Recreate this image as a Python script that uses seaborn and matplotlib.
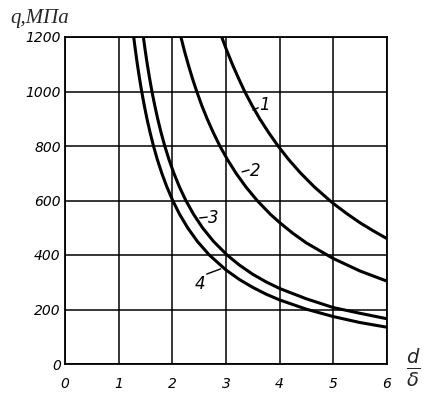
import numpy as np
import pandas as pd
import matplotlib
matplotlib.use("Agg")
import matplotlib.pyplot as plt
import seaborn as sns

# Data (q in MPa vs d/delta)
x1 = [2.92, 3.015, 3.118, 3.23, 3.348, 3.482, 3.628, 3.792, 3.97, 4.169, 4.393, 4.645,
      4.933, 5.00, 5.25, 5.50, 5.75, 6.00]
q1 = [1200, 1150, 1100, 1050, 1000, 950, 900, 850, 800, 750, 700, 650,
      600, 589, 552, 518, 488, 460]

x2 = [2.16, 2.224, 2.295, 2.371, 2.455, 2.546, 2.648, 2.761, 2.886, 3.028, 3.187,
      3.37, 3.58, 3.824, 4.00, 4.25, 4.50, 5.00, 5.50, 6.00]
q2 = [1200, 1150, 1100, 1050, 1000, 950, 900, 850, 800, 750, 700,
      650, 600, 550, 519, 479, 444, 387, 341, 304]

x3 = [1.46, 1.495, 1.533, 1.575, 1.62, 1.671, 1.727, 1.789, 1.859, 1.938, 2.029,
      2.132, 2.252, 2.394, 2.562, 2.767, 3.02, 3.25, 3.50, 3.75, 4.00, 4.50, 5.00,
      5.50, 6.00]
q3 = [1200, 1150, 1100, 1050, 1000, 950, 900, 850, 800, 750, 700,
      650, 600, 550, 500, 450, 400, 363, 329, 301, 277, 239, 207,
      186, 166]

x4 = [1.28, 1.313, 1.348, 1.387, 1.429, 1.476, 1.527, 1.585, 1.649, 1.721, 1.804,
      1.898, 2.007, 2.134, 2.285, 2.466, 2.689, 3.00, 3.25, 3.50, 3.75, 4.00, 4.50,
      5.00, 5.50, 6.00]
q4 = [1200, 1150, 1100, 1050, 1000, 950, 900, 850, 800, 750, 700,
      650, 600, 550, 500, 450, 400, 345, 310, 281, 256, 235, 201,
      174, 152, 135]

curve_names = ["1", "2", "3", "4"]
x_ticks = [0, 1, 2, 3, 4, 5, 6]
y_ticks = [0, 200, 400, 600, 800, 1000, 1200]

frames = []
for name, xs, qs in zip(curve_names, [x1, x2, x3, x4], [q1, q2, q3, q4]):
    frames.append(pd.DataFrame({"x": xs, "q": qs, "curve": name}))
df = pd.concat(frames, ignore_index=True)

sns.set_style("white")
plt.rcParams["font.family"] = ["DejaVu Sans"]

fig = plt.figure(figsize=(4.27, 3.96), dpi=100)
ax = fig.add_axes([65 / 427, 1 - 364 / 396, (387 - 65) / 427, (364 - 37) / 396])

sns.lineplot(data=df, x="x", y="q", hue="curve", units="curve", estimator=None,
             palette=["black"] * 4, linewidth=2.2, legend=False, sort=False, ax=ax)
for ln in ax.get_lines():
    ln.set_solid_joinstyle("round")
    ln.set_solid_capstyle("round")

ax.set_xlim(0, 6)
ax.set_ylim(0, 1200)
ax.set_xticks(x_ticks)
ax.set_yticks(y_ticks)
ax.set_xticklabels([str(t) for t in x_ticks], fontstyle="italic", fontsize=10)
ax.set_yticklabels([str(t) for t in y_ticks], fontstyle="italic", fontsize=10)
ax.tick_params(axis="both", length=0, colors="black")
ax.tick_params(axis="x", pad=9)
ax.tick_params(axis="y", pad=3)
ax.grid(True, color="black", linewidth=1.1)
for s in ax.spines.values():
    s.set_visible(True)
    s.set_color("black")
    s.set_linewidth(1.3)
ax.set_xlabel("")
ax.set_ylabel("")

# curve labels with short leader dashes
labels = [
    ("1", (3.71, 950), (3.50, 932), (3.60, 940)),
    ("2", (3.54, 708), (3.30, 705), (3.43, 712)),
    ("3", (2.76, 536), (2.51, 536), (2.65, 539)),
    ("4", (2.51, 294), (2.90, 349), (2.64, 330)),
]
for txt, pos, p0, p1 in labels:
    ax.plot([p0[0], p1[0]], [p0[1], p1[1]], color="black", linewidth=1.0)
    ax.text(pos[0], pos[1], txt, fontsize=12, fontstyle="italic",
            ha="center", va="center", color="black")

fig.text(10 / 427, 1 - 19 / 396, "q,МПа", family=["Liberation Serif", "DejaVu Serif"],
         fontstyle="italic", fontsize=15, ha="left", va="center")
fig.text(413 / 427, 1 - 368 / 396, r"$\frac{d}{\delta}$", fontsize=20,
         ha="center", va="center")

fig.savefig("out.png", dpi=100)
